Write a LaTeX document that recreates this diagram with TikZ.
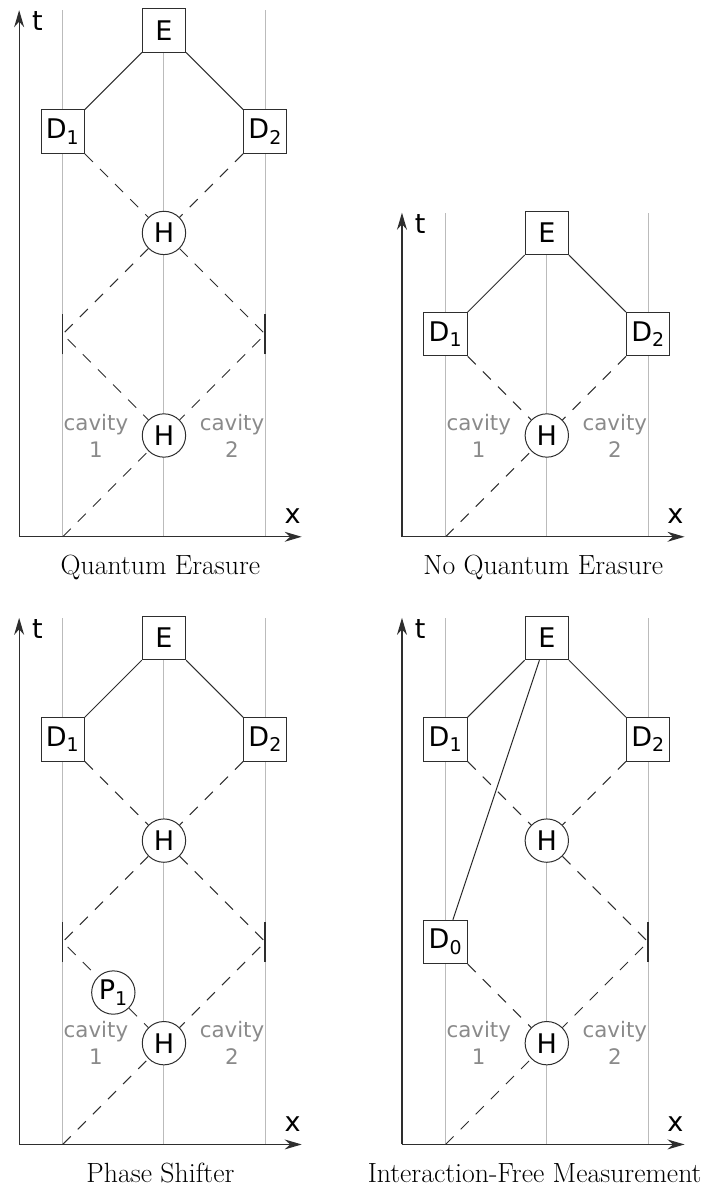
\documentclass[tikz,border=0pt]{standalone}
\usepackage{fontspec}
\newfontfamily\diagfont{DejaVu Sans}
\usetikzlibrary{arrows.meta, positioning}
\definecolor{wireGray}{HTML}{BBBBBB}
\definecolor{labelGray}{HTML}{8A8A8A}
\definecolor{lineDark}{HTML}{2E2E2E}
\tikzset{
  axisArrow/.style={-{Stealth[length=12pt, width=7pt]}, lineDark, line width=0.9pt},
  wire/.style={wireGray, line width=0.7pt},
  beamD/.style={lineDark, line width=0.7pt, dash pattern=on 8pt off 7pt},
  beamS/.style={lineDark, line width=0.7pt},
  mirrorLine/.style={lineDark, line width=1.1pt},
  boxDet/.style={rectangle, draw=lineDark, fill=white, line width=0.7pt,
                 minimum size=1.07cm, inner sep=0pt,
                 font=\diagfont\fontsize{19}{22}\selectfont},
  circOp/.style={circle, draw=lineDark, fill=white, line width=0.7pt,
                 minimum size=1.07cm, inner sep=0pt,
                 font=\diagfont\fontsize{19}{22}\selectfont},
  cavLabel/.style={text=labelGray, align=center, inner sep=0pt,
                   font=\diagfont\fontsize{15}{19}\selectfont},
  axLabel/.style={inner sep=0pt, font=\diagfont\fontsize{19}{22}\selectfont},
  capText/.style={anchor=base, inner sep=0pt, font=\fontsize{19.5}{22}\selectfont},
}

\begin{document}
\begin{tikzpicture}[x=2.5cm, y=2.5cm]
  \useasboundingbox (-0.619,-6.43) rectangle (6.44,5.30);

  % quantum erasure
  \begin{scope}
    \draw[wire] (0,0) -- (0,5.2) (1,0) -- (1,5.2) (2,0) -- (2,5.2);
    \draw[axisArrow] (-0.43,0) -- (-0.43,5.2);
    \draw[axisArrow] (-0.43,0) -- (2.36,0);
    \node[axLabel] (tA) at (-0.25,5.09) {t};
    \node[axLabel] (xA) at (2.27,0.2) {x};
    \node[boxDet] (eA) at (1,5) {E};
    \node[boxDet] (dA1) at (0,4) {D\textsubscript{1}};
    \node[boxDet] (dA2) at (2,4) {D\textsubscript{2}};
    \node[circOp] (hA1) at (1,3) {H};
    \node[circOp] (hA2) at (1,1) {H};
    \coordinate (mA1) at (0,2);
    \coordinate (mA2) at (2,2);
    \coordinate (oA) at (0,0);
    \draw[mirrorLine] ([yshift=-0.2cm*2.5]mA1) -- ([yshift=0.2cm*2.5]mA1);
    \draw[mirrorLine] ([yshift=-0.2cm*2.5]mA2) -- ([yshift=0.2cm*2.5]mA2);
    \node[cavLabel, left=0.33cm of hA2] (cA1) {cavity\\1};
    \node[cavLabel, right=0.33cm of hA2] (cA2) {cavity\\2};
    \draw[beamS] (eA) -- (dA1);
    \draw[beamS] (eA) -- (dA2);
    \draw[beamD] (dA1) -- (hA1);
    \draw[beamD] (dA2) -- (hA1);
    \draw[beamD] (hA1) -- (mA1) -- (hA2);
    \draw[beamD] (hA1) -- (mA2) -- (hA2);
    \draw[beamD] (oA) -- (hA2);
    \node[capText] (capA) at (0.965,-0.375) {Quantum Erasure};
  \end{scope}

  % no quantum erasure
  \begin{scope}[shift={(3.78,0)}]
    \draw[wire] (0,0) -- (0,3.2) (1,0) -- (1,3.2) (2,0) -- (2,3.2);
    \draw[axisArrow] (-0.43,0) -- (-0.43,3.2);
    \draw[axisArrow] (-0.43,0) -- (2.36,0);
    \node[axLabel] (tB) at (-0.25,3.09) {t};
    \node[axLabel] (xB) at (2.27,0.2) {x};
    \node[boxDet] (eB) at (1,3) {E};
    \node[boxDet] (dB1) at (0,2) {D\textsubscript{1}};
    \node[boxDet] (dB2) at (2,2) {D\textsubscript{2}};
    \node[circOp] (hB) at (1,1) {H};
    \coordinate (oB) at (0,0);
    \node[cavLabel, left=0.33cm of hB] (cB1) {cavity\\1};
    \node[cavLabel, right=0.33cm of hB] (cB2) {cavity\\2};
    \draw[beamS] (eB) -- (dB1);
    \draw[beamS] (eB) -- (dB2);
    \draw[beamD] (dB1) -- (hB);
    \draw[beamD] (dB2) -- (hB);
    \draw[beamD] (oB) -- (hB);
    \node[capText] (capB) at (0.965,-0.375) {No Quantum Erasure};
  \end{scope}

  % phase shifter
  \begin{scope}[shift={(0,-6)}]
    \draw[wire] (0,0) -- (0,5.2) (1,0) -- (1,5.2) (2,0) -- (2,5.2);
    \draw[axisArrow] (-0.43,0) -- (-0.43,5.2);
    \draw[axisArrow] (-0.43,0) -- (2.36,0);
    \node[axLabel] (tC) at (-0.25,5.09) {t};
    \node[axLabel] (xC) at (2.27,0.2) {x};
    \node[boxDet] (eC) at (1,5) {E};
    \node[boxDet] (dC1) at (0,4) {D\textsubscript{1}};
    \node[boxDet] (dC2) at (2,4) {D\textsubscript{2}};
    \node[circOp] (hC1) at (1,3) {H};
    \node[circOp] (hC2) at (1,1) {H};
    \node[circOp] (pC1) at (0.5,1.5) {P\textsubscript{1}};
    \coordinate (mC1) at (0,2);
    \coordinate (mC2) at (2,2);
    \coordinate (oC) at (0,0);
    \draw[mirrorLine] ([yshift=-0.2cm*2.5]mC1) -- ([yshift=0.2cm*2.5]mC1);
    \draw[mirrorLine] ([yshift=-0.2cm*2.5]mC2) -- ([yshift=0.2cm*2.5]mC2);
    \node[cavLabel, left=0.33cm of hC2] (cC1) {cavity\\1};
    \node[cavLabel, right=0.33cm of hC2] (cC2) {cavity\\2};
    \draw[beamS] (eC) -- (dC1);
    \draw[beamS] (eC) -- (dC2);
    \draw[beamD] (dC1) -- (hC1);
    \draw[beamD] (dC2) -- (hC1);
    \draw[beamD] (hC1) -- (mC1) -- (pC1);
    \draw[beamD] (pC1) -- (hC2);
    \draw[beamD] (hC1) -- (mC2) -- (hC2);
    \draw[beamD] (oC) -- (hC2);
    \node[capText] (capC) at (0.965,-0.375) {Phase Shifter};
  \end{scope}

  % interaction-free measurement
  \begin{scope}[shift={(3.78,-6)}]
    \draw[wire] (0,0) -- (0,5.2) (1,0) -- (1,5.2) (2,0) -- (2,5.2);
    \draw[axisArrow] (-0.43,0) -- (-0.43,5.2);
    \draw[axisArrow] (-0.43,0) -- (2.36,0);
    \node[axLabel] (tD) at (-0.25,5.09) {t};
    \node[axLabel] (xD) at (2.27,0.2) {x};
    \node[boxDet] (eD) at (1,5) {E};
    \node[boxDet] (dD1) at (0,4) {D\textsubscript{1}};
    \node[boxDet] (dD2) at (2,4) {D\textsubscript{2}};
    \node[circOp] (hD1) at (1,3) {H};
    \node[circOp] (hD2) at (1,1) {H};
    \node[boxDet] (dD0) at (0,2) {D\textsubscript{0}};
    \coordinate (mD2) at (2,2);
    \coordinate (oD) at (0,0);
    \draw[mirrorLine] ([yshift=-0.2cm*2.5]mD2) -- ([yshift=0.2cm*2.5]mD2);
    \node[cavLabel, left=0.33cm of hD2] (cD1) {cavity\\1};
    \node[cavLabel, right=0.33cm of hD2] (cD2) {cavity\\2};
    \draw[beamS] (eD) -- (dD1);
    \draw[beamS] (eD) -- (dD2);
    \draw[beamS] (eD) -- (dD0);
    \draw[beamD] (dD1) -- (hD1);
    \draw[beamD] (dD2) -- (hD1);
    \draw[beamD] (hD1) -- (mD2) -- (hD2);
    \draw[beamD] (dD0) -- (hD2);
    \draw[beamD] (oD) -- (hD2);
    \node[capText] (capD) at (0.88,-0.375) {Interaction-Free Measurement};
  \end{scope}
\end{tikzpicture}
\end{document}
